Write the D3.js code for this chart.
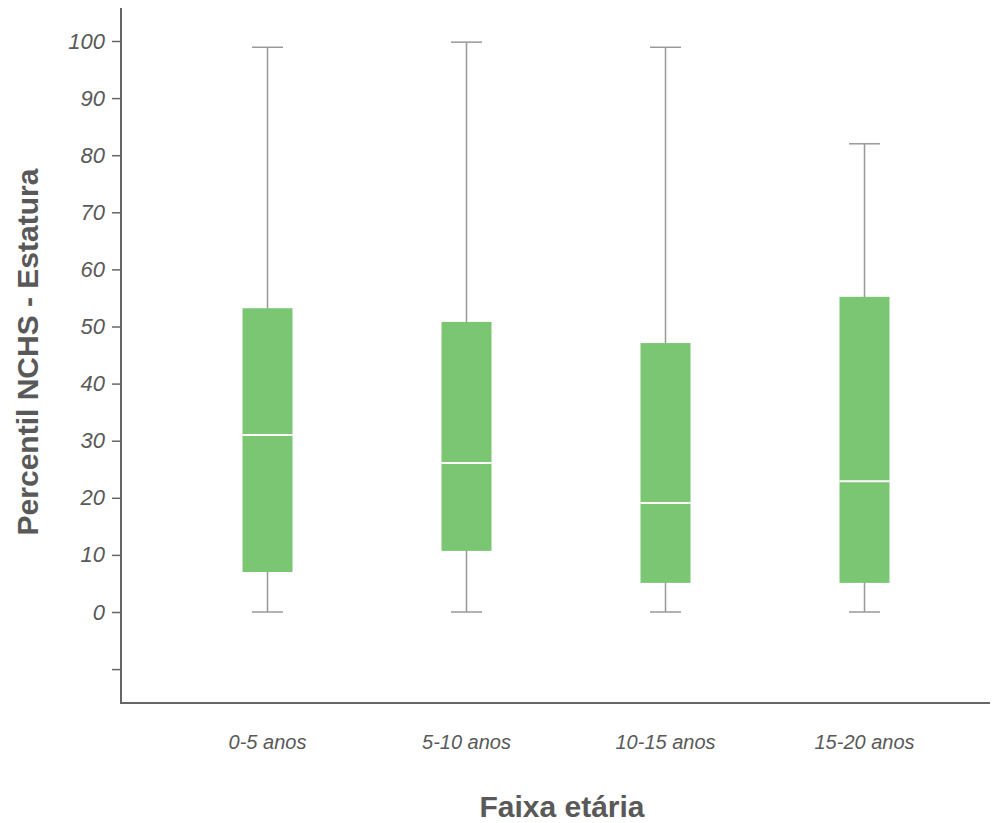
<!DOCTYPE html>
<html>
<head>
<meta charset="utf-8">
<script src="https://cdn.jsdelivr.net/npm/d3@7"></script>
<style>
body { margin: 0; background: #fff; }
svg { display: block; }
text { font-family: "Liberation Sans", Arial, sans-serif; }
</style>
</head>
<body>
<svg id="chart" width="995" height="823"></svg>
<script>
const categories = ["0-5 anos", "5-10 anos", "10-15 anos", "15-20 anos"];
const minValues = [0, 0, 0, 0];
const q1Values = [7, 10.7, 5.1, 5.1];
const medianValues = [31, 26.1, 19.1, 22.9];
const q3Values = [53.2, 50.8, 47.1, 55.2];
const maxValues = [98.9, 99.8, 98.9, 82];
const yTicks = [-10, 0, 10, 20, 30, 40, 50, 60, 70, 80, 90, 100];
const yTickLabels = ["", "0", "10", "20", "30", "40", "50", "60", "70", "80", "90", "100"];

const svg = d3.select("#chart");
const axisX = 121, axisBottom = 703, axisTop = 8, axisRight = 990;

const y = d3.scaleLinear().domain([0, 100]).range([612, 41]);
const x = d3.scaleBand().domain(categories).range([168, 964]).padding(0);

const boxW = 50, capW = 31;
const green = "#7bc673", whisk = "#999999", axisCol = "#666666", textCol = "#595959";

// Y axis
const yAxis = d3.axisLeft(y).tickValues(yTicks).tickSize(9).tickPadding(7)
  .tickFormat((d, i) => yTickLabels[i]);
const gy = svg.append("g").attr("transform", `translate(${axisX},0)`).call(yAxis);
gy.select(".domain").remove();
gy.selectAll(".tick line").attr("stroke", axisCol).attr("stroke-width", 1.5);
gy.selectAll(".tick text").attr("fill", textCol).style("font-size", "22px").attr("font-style", "italic");
svg.append("line").attr("x1", axisX).attr("x2", axisX).attr("y1", axisTop).attr("y2", axisBottom)
  .attr("stroke", axisCol).attr("stroke-width", 2);

// X axis
const xAxis = d3.axisBottom(x).tickSize(0).tickPadding(32);
const gx = svg.append("g").attr("transform", `translate(0,${axisBottom})`).call(xAxis);
gx.select(".domain").remove();
gx.selectAll(".tick text").attr("fill", textCol).style("font-size", "20px").attr("font-style", "italic");
svg.append("line").attr("x1", axisX - 1).attr("x2", axisRight).attr("y1", axisBottom).attr("y2", axisBottom)
  .attr("stroke", axisCol).attr("stroke-width", 2);

// Boxes
const data = categories.map((c, i) => ({c, min: minValues[i], q1: q1Values[i], med: medianValues[i], q3: q3Values[i], max: maxValues[i]}));
const g = svg.append("g");
data.forEach(d => {
  const cx = x(d.c) + x.bandwidth() / 2;
  g.append("line").attr("x1", cx).attr("x2", cx).attr("y1", y(d.max)).attr("y2", y(d.min))
    .attr("stroke", whisk).attr("stroke-width", 1.5);
  g.append("line").attr("x1", cx - capW / 2).attr("x2", cx + capW / 2).attr("y1", y(d.max)).attr("y2", y(d.max))
    .attr("stroke", whisk).attr("stroke-width", 1.5);
  g.append("line").attr("x1", cx - capW / 2).attr("x2", cx + capW / 2).attr("y1", y(d.min)).attr("y2", y(d.min))
    .attr("stroke", whisk).attr("stroke-width", 1.5);
  g.append("rect").attr("x", cx - boxW / 2).attr("width", boxW)
    .attr("y", y(d.q3)).attr("height", y(d.q1) - y(d.q3)).attr("fill", green);
  g.append("line").attr("x1", cx - boxW / 2).attr("x2", cx + boxW / 2).attr("y1", y(d.med)).attr("y2", y(d.med))
    .attr("stroke", "#ffffff").attr("stroke-width", 2);
});

// Titles
svg.append("text").attr("x", 562).attr("y", 817).attr("text-anchor", "middle")
  .style("font-size", "30px").attr("font-weight", "bold").attr("fill", textCol).text("Faixa etária");
svg.append("text").attr("transform", "translate(38,352) rotate(-90)").attr("text-anchor", "middle")
  .style("font-size", "30px").attr("font-weight", "bold").attr("fill", textCol).text("Percentil NCHS - Estatura");
</script>
</body>
</html>
